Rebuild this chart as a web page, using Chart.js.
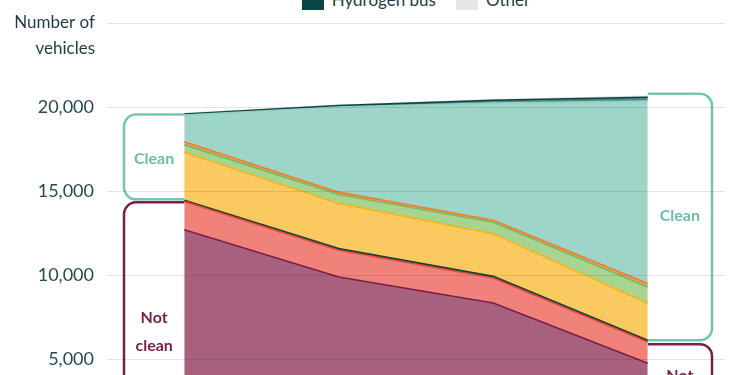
<!DOCTYPE html>
<html>
<head>
<meta charset="utf-8">
<script src="https://cdn.jsdelivr.net/npm/chart.js@4/dist/chart.umd.min.js"></script>
<style>
  html, body { margin: 0; padding: 0; background: #fff; width: 750px; height: 375px; overflow: hidden; }
  #wrap { position: absolute; left: 0; top: 0; width: 750px; height: 480px; }
  #legend { position: absolute; left: 107px; width: 618px; top: -61px; font-family: Lato, sans-serif; font-size: 17px; color: #1e3c40; }
  .row { height: 24px; display: flex; justify-content: center; align-items: center; }
  .item { display: flex; align-items: center; margin: 0 10px; white-space: nowrap; }
  .sw { width: 22px; height: 22px; margin-right: 8px; }
</style>
</head>
<body>
<div id="legend"></div>
<div id="wrap"><canvas id="c" width="750" height="480"></canvas></div>
<script>
// ---- data ----
const years = ['2019', '2020', '2021', '2022'];
const seriesNames = ['Diesel', 'Petrol', 'Gas', 'Euro VI diesel', 'Hybrid', 'Plug-in hybrid', 'Electric', 'Hydrogen bus', 'Other'];
const diesel      = [12720, 9900, 8350, 4760];
const petrol      = [1680, 1590, 1490, 1270];
const gas         = [70, 110, 100, 100];
const euro6       = [2870, 2690, 2540, 2200];
const hybrid      = [440, 530, 690, 970];
const plugin      = [180, 140, 110, 210];
const electric    = [1600, 5080, 7000, 10890];
const hydrogenBus = [60, 80, 160, 220];
const other       = [30, 20, 30, 60];
const yTicks = [5000, 10000, 15000, 20000, 25000];
const legendRows = [[0, 1, 2], [3, 4, 5, 6], [7, 8]];
const notCleanCount = 3; // first three series are "Not clean"

const values = [diesel, petrol, gas, euro6, hybrid, plugin, electric, hydrogenBus, other];
const fills   = ['#a7617f', '#f0827a', '#1f4e47', '#fac95f', '#a7d490', '#f29a5c', '#9dd5c8', '#4f8686', '#e6e6e6'];
const borders = ['#7b1e4a', '#e9453d', '#16423b', '#f4b51d', '#73bc60', '#ef7e2e', '#92cfc1', '#0b4646', '#dadae0'];

const datasets = values.map((v, i) => ({
  label: seriesNames[i],
  data: v,
  backgroundColor: fills[i],
  borderColor: borders[i],
  borderWidth: 1.6,
  fill: i === 0 ? 'origin' : '-1',
  pointRadius: 0,
  tension: 0
}));

// ---- HTML legend ----
const leg = document.getElementById('legend');
legendRows.forEach(r => {
  const row = document.createElement('div');
  row.className = 'row';
  r.forEach(i => {
    const it = document.createElement('div');
    it.className = 'item';
    const sw = document.createElement('div');
    sw.className = 'sw';
    sw.style.background = i === 7 ? '#0b4646' : fills[i];
    const tx = document.createElement('span');
    tx.textContent = seriesNames[i];
    it.appendChild(sw); it.appendChild(tx);
    row.appendChild(it);
  });
  leg.appendChild(row);
});

function cum(upTo, idx) {
  let s = 0;
  for (let k = 0; k < upTo; k++) s += values[k][idx];
  return s;
}

function roundRect(ctx, x, y, w, h, r) {
  ctx.beginPath();
  ctx.moveTo(x + r, y);
  ctx.lineTo(x + w - r, y);
  ctx.arcTo(x + w, y, x + w, y + r, r);
  ctx.lineTo(x + w, y + h - r);
  ctx.arcTo(x + w, y + h, x + w - r, y + h, r);
  ctx.lineTo(x + r, y + h);
  ctx.arcTo(x, y + h, x, y + h - r, r);
  ctx.lineTo(x, y + r);
  ctx.arcTo(x, y, x + r, y, r);
  ctx.closePath();
}

const boxesPlugin = {
  id: 'boxes',
  beforeDatasetsDraw(chart) {
    const ctx = chart.ctx, xs = chart.scales.x, ys = chart.scales.y, ca = chart.chartArea;
    const last = years.length - 1;
    const x0 = xs.getPixelForValue(0), x3 = xs.getPixelForValue(last);
    const teal = '#74c6b1', maroon = '#7b1e4a';
    const yZero = ys.getPixelForValue(0);
    ctx.save();
    ctx.lineWidth = 2.5;
    // left side
    ctx.save();
    ctx.beginPath(); ctx.rect(0, 0, x0, chart.height); ctx.clip();
    const lTop = ys.getPixelForValue(cum(values.length, 0)) + 1;
    const lNc = ys.getPixelForValue(cum(notCleanCount, 0));
    const lLeft = ca.left + 17;
    ctx.strokeStyle = teal;
    roundRect(ctx, lLeft, lTop, x0 + 30 - lLeft, lNc - 1 - lTop, 12); ctx.stroke();
    ctx.strokeStyle = maroon;
    roundRect(ctx, lLeft, lNc + 2, x0 + 30 - lLeft, yZero + 30 - lNc, 12); ctx.stroke();
    ctx.restore();
    // right side
    ctx.save();
    ctx.beginPath(); ctx.rect(x3, 0, chart.width - x3, chart.height); ctx.clip();
    const rTop = ys.getPixelForValue(cum(values.length, last)) - 2.5;
    const rNc = ys.getPixelForValue(cum(notCleanCount, last));
    const rRight = ca.right - 13;
    ctx.strokeStyle = teal;
    roundRect(ctx, x3 - 30, rTop, rRight - (x3 - 30), rNc - rTop, 12); ctx.stroke();
    ctx.strokeStyle = maroon;
    roundRect(ctx, x3 - 30, rNc + 4, rRight - (x3 - 30), yZero + 30 - rNc, 12); ctx.stroke();
    ctx.restore();
    // labels
    ctx.font = 'bold 16px Lato, sans-serif';
    ctx.textAlign = 'center';
    ctx.textBaseline = 'middle';
    const lcx = (lLeft + x0) / 2, rcx = (x3 + rRight) / 2;
    ctx.fillStyle = '#6cc0ab';
    ctx.fillText('Clean', lcx, (lTop + lNc) / 2 + 1);
    ctx.fillText('Clean', rcx, (rTop + rNc) / 2 - 1);
    ctx.fillStyle = maroon;
    const lMid = (lNc + yZero) / 2 + 10.5;
    ctx.fillText('Not', lcx, lMid - 14);
    ctx.fillText('clean', lcx, lMid + 14);
    const rMid = (rNc + yZero) / 2 - 2;
    ctx.fillText('Not', rcx, rMid - 14);
    ctx.fillText('clean', rcx, rMid + 14);
    ctx.restore();
  },
  afterDraw(chart) {
    const ctx = chart.ctx, ys = chart.scales.y;
    const yTop = ys.getPixelForValue(ys.max);
    ctx.save();
    ctx.font = '17px Lato, sans-serif';
    ctx.fillStyle = '#1e3c40';
    ctx.textAlign = 'right';
    ctx.textBaseline = 'middle';
    ctx.fillText('Number of', 95, yTop - 1);
    ctx.fillText('vehicles', 95, yTop + 25);
    ctx.restore();
  }
};

new Chart(document.getElementById('c'), {
  type: 'line',
  data: { labels: years, datasets },
  plugins: [boxesPlugin],
  options: {
    responsive: false,
    animation: false,
    events: [],
    layout: { padding: { top: 23, right: 25, bottom: 7, left: 0 } },
    plugins: { legend: { display: false }, tooltip: { enabled: false } },
    elements: { line: { borderJoinStyle: 'round' } },
    scales: {
      x: {
        offset: true,
        grid: { display: false },
        border: { display: false },
        ticks: { font: { family: 'Lato', size: 16 }, color: '#264a4f' },
        afterFit(s) { s.height = 30; }
      },
      y: {
        stacked: true,
        min: 0,
        max: 25000,
        afterBuildTicks(s) { s.ticks = [0].concat(yTicks).map(v => ({ value: v })); },
        grid: { color: 'rgba(0,0,0,0.1)', drawTicks: false, z: 1 },
        border: { display: false },
        ticks: {
          padding: 13,
          font: { family: 'Lato', size: 18 },
          color: '#264a4f',
          callback: v => (v === 25000 || v === 0) ? '' : v.toLocaleString('en-US')
        },
        afterFit(s) { s.width = 107; }
      }
    }
  }
});
</script>
</body>
</html>
